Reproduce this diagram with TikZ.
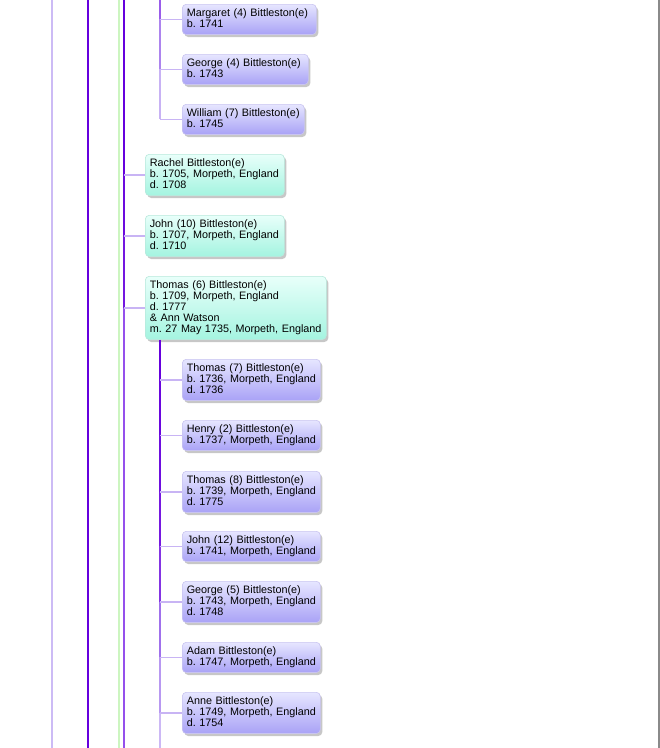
\documentclass[tikz,border=0pt]{standalone}
\usepackage{fontspec}
\setmainfont{Liberation Sans}
\usetikzlibrary{shadows}
\frenchspacing
\definecolor{dkp}{HTML}{6600DD}
\definecolor{lav}{HTML}{CCBBF5}
\definecolor{grn}{HTML}{CCF5C0}
\definecolor{connc}{HTML}{C8B4F4}
\definecolor{edgegray}{HTML}{8A8A8A}
\definecolor{ptop}{HTML}{E6E6FF}
\definecolor{pbot}{HTML}{A9A2F6}
\definecolor{pborder}{HTML}{C9C4F0}
\definecolor{ttop}{HTML}{E8FFFA}
\definecolor{tbot}{HTML}{A4F4E0}
\definecolor{tborder}{HTML}{B8E8DC}
\definecolor{la}{HTML}{6A06DE}
\definecolor{lb}{HTML}{6E0EDF}
\definecolor{lc}{HTML}{7618E0}
\definecolor{ld}{HTML}{8434E3}
\definecolor{le}{HTML}{A070EC}
\definecolor{lf}{HTML}{B898F1}
\definecolor{lg}{HTML}{CCB8F5}
\definecolor{ua}{HTML}{9A5CEA}
\definecolor{ub}{HTML}{AD84EE}
\definecolor{uc}{HTML}{C8B2F4}
\definecolor{ma}{HTML}{6C0ADE}
\definecolor{mb}{HTML}{7416E0}
\definecolor{mc}{HTML}{9550EC}
\newcommand{\bline}[1]{\mbox{\rule[-3.2pt]{0pt}{10.8pt}#1}}
\begin{document}
\begin{tikzpicture}[x=1pt,y=-1pt,
  box/.style={anchor=north west, rounded corners=4pt, inner xsep=4.5pt, inner ysep=4.1pt,
    align=left, font=\fontsize{10.8}{11}\selectfont, line width=0.6pt,
    execute at begin node={\baselineskip=11pt\lineskiplimit=-20pt\lineskip=0pt},
    drop shadow={shadow xshift=2pt, shadow yshift=-2.5pt, opacity=0.22, fill=black}},
  pbox/.style={box, top color=ptop, bottom color=pbot, draw=pborder},
  tbox/.style={box, top color=ttop, bottom color=tbot, draw=tborder},
  trunk/.style={line width=2pt},
  conn/.style={line width=1.6pt, draw=connc}]
\useasboundingbox[fill=white] (0,0) rectangle (660,748);

% long vertical lines
\coordinate (a52t) at (52,0);   \coordinate (a52b) at (52,748);
\coordinate (a88t) at (88,0);   \coordinate (a88b) at (88,748);
\coordinate (a119t) at (119,0); \coordinate (a119b) at (119,748);
\coordinate (t124) at (124,0);  \coordinate (b124) at (124,748);
\coordinate (t160) at (160,0);  \coordinate (b160) at (160,748);
\coordinate (g659t) at (659,0); \coordinate (g659b) at (659,748);

\draw[trunk, draw=lav] (a52t) -- (a52b);
\draw[trunk, draw=dkp] (a88t) -- (a88b);
\draw[trunk, draw=grn] (a119t) -- (a119b);
\draw[line width=1.5pt, draw=edgegray] (g659t) -- (g659b);

% nodes
\node[pbox, text width=125pt] (margaret) at (182,4) {\bline{Margaret (4) Bittleston(e)}\\\bline{b. 1741}};
\node[pbox, text width=117pt] (george4) at (182,54) {\bline{George (4) Bittleston(e)}\\\bline{b. 1743}};
\node[pbox, text width=113pt] (william7) at (182,104) {\bline{William (7) Bittleston(e)}\\\bline{b. 1745}};

\node[tbox, text width=130pt] (rachel) at (145,154) {\bline{Rachel Bittleston(e)}\\\bline{b. 1705, Morpeth, England}\\\bline{d. 1708}};
\node[tbox, text width=130pt] (john10) at (145,215) {\bline{John (10) Bittleston(e)}\\\bline{b. 1707, Morpeth, England}\\\bline{d. 1710}};
\node[tbox, text width=172pt] (thomas6) at (145,276) {\bline{Thomas (6) Bittleston(e)}\\\bline{b. 1709, Morpeth, England}\\\bline{d. 1777}\\\bline{\& Ann Watson}\\\bline{m. 27 May 1735, Morpeth, England}};

\node[pbox, text width=129pt] (thomas7) at (182,359) {\bline{Thomas (7) Bittleston(e)}\\\bline{b. 1736, Morpeth, England}\\\bline{d. 1736}};
\node[pbox, text width=129pt] (henry2) at (182,420) {\bline{Henry (2) Bittleston(e)}\\\bline{b. 1737, Morpeth, England}};
\node[pbox, text width=129pt] (thomas8) at (182,471) {\bline{Thomas (8) Bittleston(e)}\\\bline{b. 1739, Morpeth, England}\\\bline{d. 1775}};
\node[pbox, text width=129pt] (john12) at (182,531) {\bline{John (12) Bittleston(e)}\\\bline{b. 1741, Morpeth, England}};
\node[pbox, text width=129pt] (george5) at (182,581) {\bline{George (5) Bittleston(e)}\\\bline{b. 1743, Morpeth, England}\\\bline{d. 1748}};
\node[pbox, text width=129pt] (adam) at (182,642) {\bline{Adam Bittleston(e)}\\\bline{b. 1747, Morpeth, England}};
\node[pbox, text width=129pt] (anne) at (182,692) {\bline{Anne Bittleston(e)}\\\bline{b. 1749, Morpeth, England}\\\bline{d. 1754}};

% trunk at x=124
\draw[trunk, draw=dkp] (t124) -- (rachel.west -| t124);
\draw[trunk, draw=ma] (rachel.west -| t124) -- (john10.west -| t124);
\draw[trunk, draw=mb] (john10.west -| t124) -- (thomas6.west -| t124);
\draw[trunk, draw=mc] (thomas6.west -| t124) -- (b124);
\draw[conn] (rachel.west -| t124) -- (rachel.west);
\draw[conn] (john10.west -| t124) -- (john10.west);
\draw[conn] (thomas6.west -| t124) -- (thomas6.west);

% upper trunk at x=160
\draw[trunk, draw=ua] (t160) -- (margaret.west -| t160);
\draw[trunk, draw=ub] (margaret.west -| t160) -- (george4.west -| t160);
\draw[trunk, draw=uc] (george4.west -| t160) -- (william7.west -| t160);
\draw[conn] (margaret.west -| t160) -- (margaret.west);
\draw[conn] (george4.west -| t160) -- (george4.west);
\draw[conn] (william7.west -| t160) -- (william7.west);

% lower trunk at x=160
\draw[trunk, draw=dkp] (thomas6.south -| t160) -- (thomas7.west -| t160);
\draw[trunk, draw=la] (thomas7.west -| t160) -- (henry2.west -| t160);
\draw[trunk, draw=lb] (henry2.west -| t160) -- (thomas8.west -| t160);
\draw[trunk, draw=lc] (thomas8.west -| t160) -- (john12.west -| t160);
\draw[trunk, draw=ld] (john12.west -| t160) -- (george5.west -| t160);
\draw[trunk, draw=le] (george5.west -| t160) -- (adam.west -| t160);
\draw[trunk, draw=lf] (adam.west -| t160) -- (anne.west -| t160);
\draw[trunk, draw=lg] (anne.west -| t160) -- (b160);
\foreach \n in {thomas7,henry2,thomas8,john12,george5,adam,anne}
  \draw[conn] (\n.west -| t160) -- (\n.west);
\end{tikzpicture}
\end{document}
